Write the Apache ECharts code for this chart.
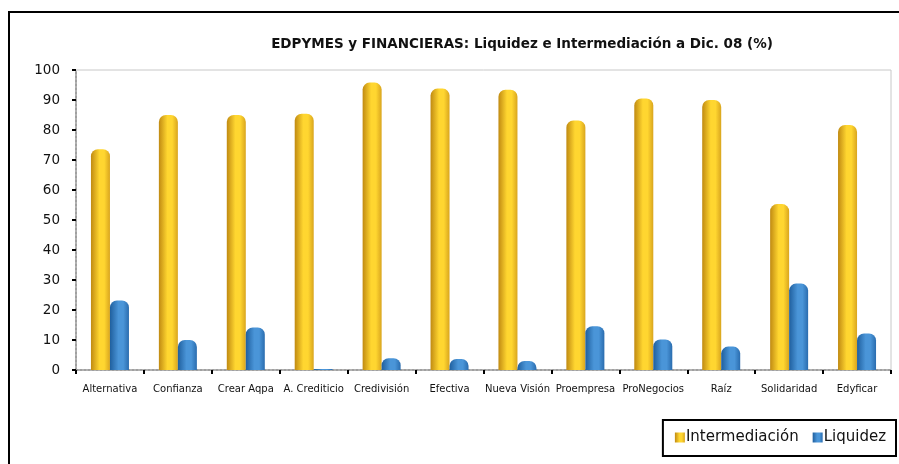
<!DOCTYPE html>
<html>
<head>
<meta charset="utf-8">
<script src="https://cdn.jsdelivr.net/npm/echarts@6/dist/echarts.min.js"></script>
<style>
  html, body { margin: 0; padding: 0; background: #fff; }
  #chart { width: 899px; height: 464px; }
</style>
</head>
<body>
<div id="chart"></div>
<script>
// data
const categories = ["Alternativa", "Confianza", "Crear Aqpa", "A. Crediticio", "Credivisión", "Efectiva",
  "Nueva Visión", "Proempresa", "ProNegocios", "Raíz", "Solidaridad", "Edyficar"];
const intermediacion = [73.6, 85.0, 85.0, 85.4, 95.8, 93.8, 93.4, 83.2, 90.5, 90.0, 55.3, 81.7];
const liquidez = [23.2, 10.0, 14.2, 0.3, 3.9, 3.7, 3.0, 14.6, 10.2, 7.8, 28.8, 12.2];
const yTicks = [0, 10, 20, 30, 40, 50, 60, 70, 80, 90, 100];

const chart = echarts.init(document.getElementById("chart"));

function cylinder(dark, light, edge) {
  return new echarts.graphic.LinearGradient(0, 0, 1, 0, [
    { offset: 0, color: dark },
    { offset: 0.45, color: light },
    { offset: 0.7, color: light },
    { offset: 1, color: edge },
  ]);
}

const font = "DejaVu Sans";

chart.setOption({
  animation: false,
  title: {
    text: "EDPYMES y FINANCIERAS: Liquidez e Intermediación a Dic. 08 (%)",
    left: 517,
    textAlign: "center",
    top: 32,
    textStyle: { fontFamily: font, fontSize: 13.5, fontWeight: "bold", color: "#111" },
  },
  legend: {
    data: ["Intermediación", "Liquidez"],
    orient: "horizontal",
    right: 3,
    top: 420,
    padding: [10, 10, 11, 12],
    itemGap: 14,
    itemWidth: 10,
    itemHeight: 10,
    icon: "rect",
    borderColor: "#000",
    borderWidth: 2,
    textStyle: { fontFamily: font, fontSize: 15, color: "#111", padding: [0, 0, 0, -4] },
  },
  graphic: [{
    type: "rect",
    shape: { x: 9, y: 12, width: 1000, height: 600 },
    style: { fill: "none", stroke: "#000", lineWidth: 2 },
    silent: true,
  }],
  grid: {
    left: 76, right: 8, top: 70, bottom: 94,
    show: true, borderColor: "#c8c8c8", borderWidth: 1, backgroundColor: "#fff",
  },
  xAxis: {
    type: "category",
    data: categories,
    axisLine: { lineStyle: { color: "#a0a0a0", type: "dotted", width: 2 } },
    axisTick: { show: true, length: 4, lineStyle: { color: "#000", width: 2 } },
    axisLabel: { interval: 0, fontFamily: font, fontSize: 10, color: "#111", margin: 14 },
  },
  yAxis: {
    type: "value",
    min: 0, max: 100, interval: 10,
    axisLine: { show: true, lineStyle: { color: "#a0a0a0", type: "dotted", width: 2 } },
    axisTick: { show: true, length: 4, lineStyle: { color: "#000", width: 2 } },
    axisLabel: {
      fontFamily: font, fontSize: 13.5, color: "#111", margin: 16,
      formatter: v => yTicks.includes(v) ? String(v) : "",
    },
    splitLine: { show: false },
  },
  series: [
    {
      name: "Intermediación",
      type: "bar",
      data: intermediacion,
      barWidth: 19,
      barGap: "0%",
      itemStyle: { color: cylinder("#c08a12", "#ffd630", "#d9a51e"), borderRadius: [7, 7, 0, 0] },
    },
    {
      name: "Liquidez",
      type: "bar",
      data: liquidez,
      barWidth: 19,
      itemStyle: { color: cylinder("#1f5f9e", "#4a95d8", "#2a6cae"), borderRadius: [7, 7, 0, 0] },
    },
  ],
});
</script>
</body>
</html>
